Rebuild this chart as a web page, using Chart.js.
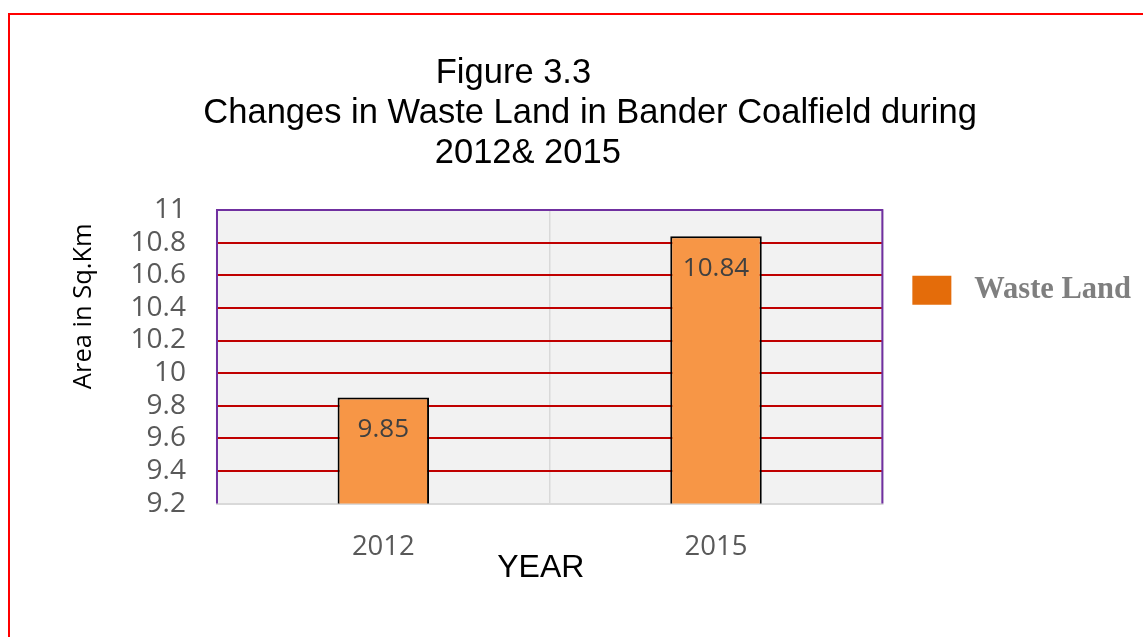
<!DOCTYPE html>
<html>
<head>
<meta charset="utf-8">
<title>Figure 3.3</title>
<script src="https://cdn.jsdelivr.net/npm/chart.js@4.4.1/dist/chart.umd.min.js"></script>
<style>
    body { margin: 0; background: #fff; overflow: hidden; }
    #marco { position: absolute; left: 8px; top: 13px; width: 1200px; height: 700px; border: 2px solid #ff0000; }
    #myChart { position: absolute; left: 0; top: 0; }
</style>
</head>
<body>
<div id="marco"></div>
<canvas id="myChart" width="1143" height="637"></canvas>
<script>
// datos del grafico
const years = ['2012', '2015'];
const wasteLand = [9.85, 10.84];
const serieLabel = 'Waste Land';
const yMin = 9.2;
const yMax = 11;
const yStep = 0.2;

// los espacios al final desplazan cada linea como en el original
const tituloLineas = [
    'Figure 3.3' + ' '.repeat(19),
    'Changes in Waste Land in Bander Coalfield during' + '   ',
    '2012& 2015' + ' '.repeat(16)
];

// fondo gris, borde morado y etiquetas de valores
const areaPlugin = {
    id: 'areaPlugin',
    beforeDraw(chart) {
        const { ctx, chartArea } = chart;
        ctx.save();
        ctx.fillStyle = '#f2f2f2';
        ctx.fillRect(chartArea.left, chartArea.top, chartArea.right - chartArea.left, chartArea.bottom - chartArea.top);
        ctx.restore();
    },
    afterDatasetsDraw(chart) {
        const { ctx, chartArea } = chart;
        ctx.save();
        ctx.strokeStyle = '#7030a0';
        ctx.lineWidth = 2;
        ctx.beginPath();
        ctx.moveTo(chartArea.left, chartArea.bottom);
        ctx.lineTo(chartArea.left, chartArea.top);
        ctx.lineTo(chartArea.right, chartArea.top);
        ctx.lineTo(chartArea.right, chartArea.bottom);
        ctx.stroke();

        ctx.fillStyle = '#404040';
        ctx.font = '26px "Open Sans"';
        ctx.textAlign = 'center';
        ctx.textBaseline = 'middle';
        const meta = chart.getDatasetMeta(0);
        meta.data.forEach((bar, i) => {
            ctx.fillText(wasteLand[i].toString(), bar.x, bar.y + 32);
        });
        ctx.restore();
    }
};

const config = {
    type: 'bar',
    data: {
        labels: years,
        datasets: [
            {
                label: serieLabel,
                data: wasteLand,
                backgroundColor: '#f79646',
                borderColor: '#000000',
                borderWidth: 2,
                barPercentage: 0.275,
                categoryPercentage: 1
            }
        ]
    },
    options: {
        responsive: false,
        animation: false,
        layout: {
            padding: { top: 53, left: 68, right: 2, bottom: 50 }
        },
        plugins: {
            title: {
                display: true,
                text: tituloLineas,
                color: '#000000',
                font: { family: '"Liberation Sans", Arial', size: 34.5, weight: 'normal', lineHeight: 1.16 },
                padding: { top: 0, bottom: 37 }
            },
            legend: {
                display: true,
                position: 'right',
                align: 'start',
                fullSize: false,
                title: {
                    display: true,
                    text: ' ',
                    font: { size: 10 },
                    padding: { top: 0, bottom: 23 }
                },
                labels: {
                    boxWidth: 39,
                    boxHeight: 29,
                    padding: 30,
                    color: '#7f7f7f',
                    font: { family: '"Liberation Serif", "Times New Roman"', size: 30.5, weight: 'bold' },
                    generateLabels(chart) {
                        return [{
                            text: ' ' + serieLabel,
                            fillStyle: '#e46c0a',
                            strokeStyle: '#e46c0a',
                            lineWidth: 0,
                            fontColor: '#7f7f7f',
                            datasetIndex: 0,
                            hidden: false
                        }];
                    }
                }
            },
            tooltip: { enabled: false }
        },
        scales: {
            x: {
                grid: {
                    display: true,
                    color: '#d9d9d9',
                    lineWidth: 1.5,
                    drawTicks: false
                },
                border: { display: true, color: '#d9d9d9', width: 2 },
                ticks: {
                    color: '#595959',
                    padding: 27,
                    font: { family: '"Open Sans"', size: 27.5 }
                },
                title: {
                    display: true,
                    text: 'YEAR  ',
                    color: '#000000',
                    font: { family: '"Liberation Sans", Arial', size: 32 },
                    padding: { top: -42, bottom: 0 }
                }
            },
            y: {
                min: yMin,
                max: yMax,
                grid: {
                    drawTicks: false,
                    lineWidth: 2,
                    color: (ctx) => {
                        const v = ctx.tick ? ctx.tick.value : null;
                        if (v === null || Math.abs(v - yMin) < 1e-6 || Math.abs(v - yMax) < 1e-6) {
                            return 'rgba(0,0,0,0)';
                        }
                        return '#c00000';
                    }
                },
                border: { display: false },
                ticks: {
                    stepSize: yStep,
                    autoSkip: false,
                    color: '#595959',
                    padding: 31,
                    font: { family: '"Open Sans"', size: 28 },
                    callback: (value) => String(+value.toFixed(1))
                },
                title: {
                    display: true,
                    text: 'Area in Sq.Km  ',
                    align: 'end',
                    color: '#000000',
                    font: { family: '"Open Sans"', size: 25.5 },
                    padding: { top: 0, bottom: 1 }
                }
            }
        }
    },
    plugins: [areaPlugin]
};

const grafica = document.getElementById('myChart').getContext('2d');
const chartInstance = new Chart(grafica, config);
</script>
</body>
</html>
